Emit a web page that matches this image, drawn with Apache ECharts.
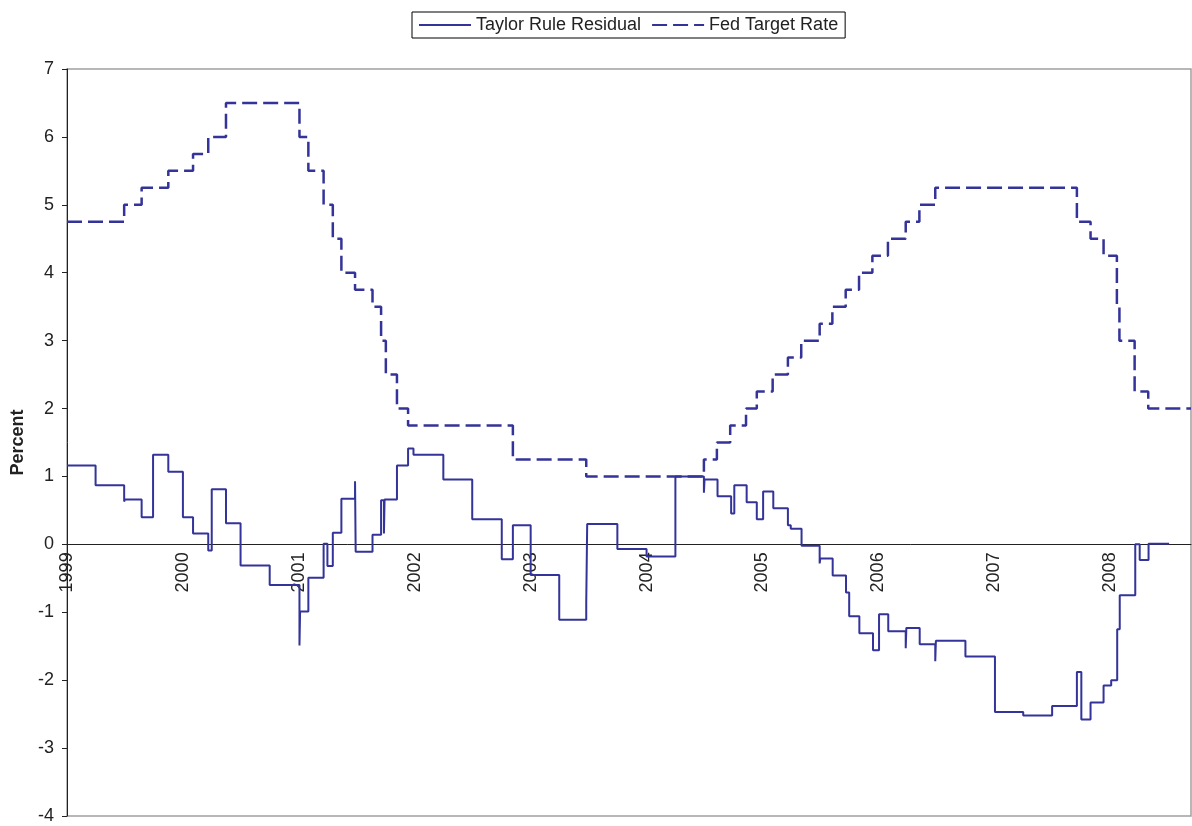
<!DOCTYPE html>
<html>
<head>
<meta charset="utf-8">
<script src="https://cdn.jsdelivr.net/npm/echarts@6/dist/echarts.min.js"></script>
<style>
html,body{margin:0;padding:0;background:#fff;}
#chart{width:1192px;height:826px;}
</style>
</head>
<body>
<div id="chart"></div>
<script>
// ---- Data ----
const yearTicks = [1999, 2000, 2001, 2002, 2003, 2004, 2005, 2006, 2007, 2008];
const axisStart = '1999-01-01';
const axisEnd = '2008-09-12';
const yMin = -4, yMax = 7;

const residualDates = [
  '1999-01-01','1999-04-01','1999-06-30','1999-07-02','1999-08-24','1999-09-29','1999-11-16',
  '2000-01-01','2000-02-02','2000-03-21','2000-04-01','2000-05-16','2000-07-01','2000-10-01',
  '2001-01-03','2001-01-05','2001-01-31','2001-03-20','2001-04-01','2001-04-18','2001-05-15',
  '2001-06-27','2001-06-29','2001-08-21','2001-09-17','2001-09-26','2001-09-28','2001-11-06',
  '2001-12-11','2001-12-28','2002-04-01','2002-07-01','2002-10-02','2002-11-06',
  '2003-01-01','2003-04-01','2003-06-25','2003-06-28','2003-10-01',
  '2004-01-01','2004-04-01','2004-06-30','2004-07-02','2004-08-12','2004-09-24','2004-10-04',
  '2004-11-12','2004-12-14','2005-01-03','2005-02-04','2005-03-22','2005-03-31','2005-05-04',
  '2005-06-30','2005-07-02','2005-08-10','2005-09-21','2005-10-01','2005-11-02','2005-12-15',
  '2006-01-03','2006-02-01','2006-03-28','2006-03-30','2006-05-11','2006-06-29','2006-07-01',
  '2006-10-02','2007-01-03','2007-04-02','2007-07-02','2007-09-18','2007-10-02','2007-10-31',
  '2007-12-11','2008-01-04','2008-01-23','2008-01-31','2008-03-20','2008-04-03','2008-05-01',
  '2008-07-05'
];
const residualValues = [
  1.16, 0.87, 0.63, 0.66, 0.40, 1.32, 1.07,
  0.40, 0.16, -0.09, 0.81, 0.31, -0.31, -0.60,
  -1.49, -0.99, -0.49, 0.01, -0.32, 0.17, 0.67,
  0.93, -0.11, 0.14, 0.65, 0.16, 0.66, 1.16,
  1.41, 1.32, 0.955, 0.37, -0.22, 0.28,
  -0.45, -1.11, -0.86, 0.30, -0.07,
  -0.18, 1.00, 0.76, 0.955, 0.71, 0.455, 0.87,
  0.62, 0.37, 0.78, 0.53, 0.28, 0.23, -0.02,
  -0.28, -0.21, -0.46, -0.71, -1.06, -1.31, -1.56,
  -1.03, -1.28, -1.53, -1.23, -1.47, -1.72, -1.42,
  -1.65, -2.47, -2.52, -2.38, -1.88, -2.58, -2.33,
  -2.08, -2.00, -1.25, -0.75, 0.00, -0.23, 0.01,
  0.01
];

const fedDates = [
  '1999-01-01','1999-06-30','1999-08-24','1999-11-16','2000-02-02','2000-03-21','2000-05-16',
  '2001-01-03','2001-01-31','2001-03-20','2001-04-18','2001-05-15','2001-06-27','2001-08-21',
  '2001-09-17','2001-10-02','2001-11-06','2001-12-11','2002-11-06','2003-06-25',
  '2004-06-30','2004-08-10','2004-09-21','2004-11-10','2004-12-14','2005-02-02','2005-03-22',
  '2005-05-03','2005-06-30','2005-08-09','2005-09-20','2005-11-01','2005-12-13','2006-01-31',
  '2006-03-28','2006-05-10','2006-06-29','2007-09-18','2007-10-31','2007-12-11','2008-01-22',
  '2008-01-30','2008-03-18','2008-04-30','2008-09-12'
];
const fedValues = [
  4.75, 5.00, 5.25, 5.50, 5.75, 6.00, 6.50,
  6.00, 5.50, 5.00, 4.50, 4.00, 3.75, 3.50,
  3.00, 2.50, 2.00, 1.75, 1.25, 1.00,
  1.25, 1.50, 1.75, 2.00, 2.25, 2.50, 2.75,
  3.00, 3.25, 3.50, 3.75, 4.00, 4.25, 4.50,
  4.75, 5.00, 5.25, 4.75, 4.50, 4.25, 3.50,
  3.00, 2.25, 2.00, 2.00
];

// ---- helpers ----
function decYear(s) {
  const p = s.split('-').map(Number);
  const y = p[0];
  const start = Date.UTC(y, 0, 1), end = Date.UTC(y + 1, 0, 1);
  return y + (Date.UTC(y, p[1] - 1, p[2]) - start) / (end - start);
}
function pairs(d, v) { return d.map((s, i) => [decYear(s), v[i]]); }

const FONT = 'Arial, "Liberation Sans", sans-serif';
const COLOR = '#333399';
const TXT = '#222';

const W = 1192, H = 826;
const GRID = {left: 67, right: 1, top: 69, bottom: 10};
const plotH = H - GRID.top - GRID.bottom;
// move the x axis (line + labels) up to the y = 0 level, as in the original
const zeroOffset = -plotH * (0 - yMin) / (yMax - yMin);

const chart = echarts.init(document.getElementById('chart'), null, {renderer: 'canvas'});
chart.setOption({
  animation: false,
  backgroundColor: '#fff',
  textStyle: {fontFamily: FONT},
  legend: {
    top: 12, left: 412,
    padding: [4, 7, 4, 6],
    itemGap: 10,
    itemWidth: 52, itemHeight: 14,
    borderColor: '#000', borderWidth: 1,
    backgroundColor: '#fff',
    itemStyle: {opacity: 0},
    textStyle: {fontSize: 18, color: TXT, fontFamily: FONT},
    data: ['Taylor Rule Residual', 'Fed Target Rate']
  },
  grid: {
    left: GRID.left, right: GRID.right, top: GRID.top, bottom: GRID.bottom,
    containLabel: false,
    outerBoundsMode: 'none',
    show: true, borderColor: '#a0a0a0', borderWidth: 1.5, backgroundColor: 'transparent'
  },
  xAxis: {
    type: 'value',
    position: 'bottom',
    offset: zeroOffset,
    min: decYear(axisStart), max: decYear(axisEnd),
    interval: 1,
    axisLine: {onZero: false, lineStyle: {color: '#222', width: 1}},
    axisTick: {show: false},
    splitLine: {show: false},
    axisLabel: {
      rotate: 90, margin: 8, fontSize: 18, color: TXT, fontFamily: FONT,
      showMaxLabel: false,
      formatter: v => { const y = Math.round(v); return yearTicks.indexOf(y) >= 0 ? String(y) : ''; }
    }
  },
  yAxis: {
    type: 'value',
    min: yMin, max: yMax, interval: 1,
    name: 'Percent', nameLocation: 'middle', nameGap: 40,
    nameTextStyle: {fontSize: 18, fontWeight: 'bold', color: TXT, fontFamily: FONT},
    axisLine: {show: true, onZero: false, lineStyle: {color: '#222', width: 1}},
    axisTick: {show: true, length: 5, lineStyle: {color: '#222'}},
    splitLine: {show: false},
    axisLabel: {fontSize: 18, color: TXT, margin: 13, fontFamily: FONT}
  },
  series: [
    {
      name: 'Taylor Rule Residual', type: 'line', step: 'end',
      symbol: 'none', showSymbol: false,
      data: pairs(residualDates, residualValues),
      lineStyle: {color: COLOR, width: 2},
      itemStyle: {color: COLOR}
    },
    {
      name: 'Fed Target Rate', type: 'line', step: 'end',
      symbol: 'none', showSymbol: false,
      data: pairs(fedDates, fedValues),
      lineStyle: {color: COLOR, width: 2.5, type: [15, 6]},
      itemStyle: {color: COLOR}
    }
  ]
});
</script>
</body>
</html>
